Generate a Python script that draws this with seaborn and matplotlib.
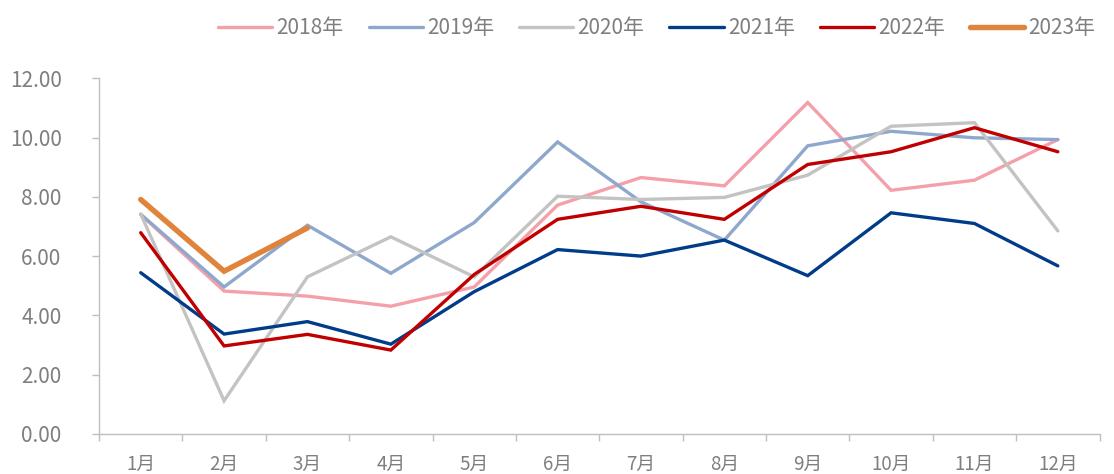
import numpy as np
import pandas as pd
import matplotlib
matplotlib.use("Agg")
import matplotlib.pyplot as plt
import seaborn as sns
from matplotlib.ticker import FixedLocator

months = ["1月", "2月", "3月", "4月", "5月", "6月", "7月", "8月", "9月", "10月", "11月", "12月"]
years = ["2018年", "2019年", "2020年", "2021年", "2022年", "2023年"]
v2018 = [7.40, 4.82, 4.65, 4.31, 4.96, 7.72, 8.65, 8.37, 11.18, 8.22, 8.56, 9.93]
v2019 = [7.41, 4.96, 7.04, 5.42, 7.13, 9.85, 7.83, 6.54, 9.72, 10.21, 9.99, 9.93]
v2020 = [7.42, 1.12, 5.30, 6.65, 5.30, 8.02, 7.91, 7.98, 8.73, 10.38, 10.50, 6.85]
v2021 = [5.44, 3.37, 3.79, 3.03, 4.80, 6.22, 6.00, 6.54, 5.34, 7.46, 7.10, 5.67]
v2022 = [6.79, 2.97, 3.36, 2.83, 5.38, 7.24, 7.68, 7.24, 9.09, 9.52, 10.33, 9.52]
v2023 = [7.91, 5.49, 6.95]

colors = ["#F4A0AA", "#8EA8CD", "#C3C3C3", "#003C8A", "#C00000", "#E0843C"]
widths = [2.4, 2.4, 2.4, 2.4, 2.4, 3.9]

series = [v2018, v2019, v2020, v2021, v2022, v2023]
rows = []
for y, vals in zip(years, series):
    for i, v in enumerate(vals):
        rows.append({"month": i, "value": v, "year": y})
df = pd.DataFrame(rows)

sns.set_theme(style="white")
plt.rcParams['font.family'] = ['Noto Sans CJK SC', 'DejaVu Sans']

fig = plt.figure(figsize=(11.14, 4.74), dpi=100)
ax = fig.add_axes([0.0889, 0.0844, 0.8981, 0.7506])

sns.lineplot(data=df, x="month", y="value", hue="year", hue_order=years,
             palette=colors, sort=False, ax=ax, legend=False)
for line, w in zip(ax.get_lines(), widths):
    line.set_linewidth(w)
    line.set_solid_joinstyle("miter")
    line.set_solid_capstyle("round")

ax.set_xlim(-0.5, 11.5)
ax.set_ylim(0, 12)
yt = np.arange(0, 12.1, 2)
ax.set_yticks(yt)
ax.set_yticklabels([f"{t:.2f}" for t in yt])
ax.set_xticks(range(12))
ax.set_xticklabels(months)
ax.xaxis.set_minor_locator(FixedLocator(np.arange(-0.5, 12, 1)))
ax.tick_params(axis="x", which="major", length=0, pad=14, labelsize=13.5, labelcolor="#7F7F7F")
ax.tick_params(axis="x", which="minor", length=5, width=1, color="#BFBFBF", direction="out", bottom=True)
ax.tick_params(axis="y", length=5, width=1, color="#BFBFBF", direction="out", left=True,
               labelsize=15, labelcolor="#7F7F7F", pad=22)
ax.set_xlabel("")
ax.set_ylabel("")
for s in ["top", "right"]:
    ax.spines[s].set_visible(False)
for s in ["left", "bottom"]:
    ax.spines[s].set_color("#BFBFBF")
    ax.spines[s].set_linewidth(1)

handles = [plt.Line2D([], [], color=c, lw=w, solid_capstyle="round") for c, w in zip(colors, widths)]
leg = fig.legend(handles, years, loc="center right", bbox_to_anchor=(1.0, 0.94), ncol=6,
                 frameon=False, fontsize=15, handlelength=2.6, handletextpad=0.2,
                 columnspacing=1.2, labelcolor="#7F7F7F")

fig.savefig("out.png", dpi=100)
